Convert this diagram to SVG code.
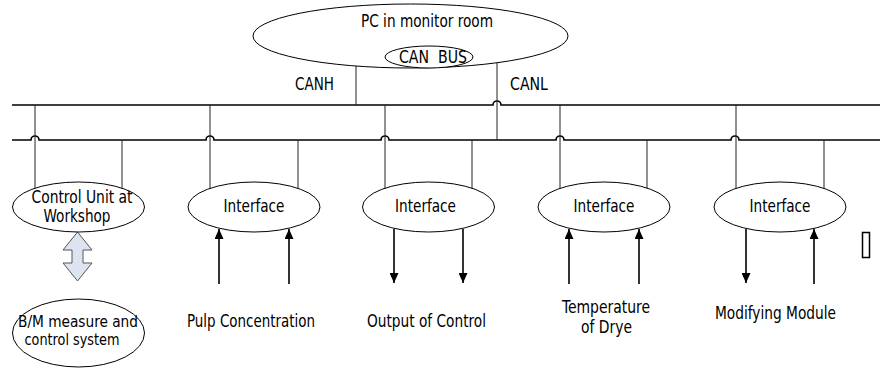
<svg xmlns="http://www.w3.org/2000/svg" width="880" height="368" viewBox="0 0 880 368">
<style>
text{font-family:"DejaVu Sans Condensed","DejaVu Sans",sans-serif;font-size:17px;fill:#000}
.sm{font-size:15.5px}
.el{fill:#fff;stroke:#000;stroke-width:1}
.bus{fill:none;stroke:#000;stroke-width:1.6}
.v{fill:none;stroke:#222;stroke-width:1}
.arr{fill:none;stroke:#000;stroke-width:1.6;marker-end:url(#ah)}
</style>
<defs>
<marker id="ah" markerUnits="userSpaceOnUse" markerWidth="10" markerHeight="9" refX="10" refY="4.5" orient="auto">
<path d="M0,0 L10,4.5 L0,9 z" fill="#000"/>
</marker>
</defs>
<g id="connectors">
<path class="bus" d="M12,105 H493 a4,4 0 0 1 8,0 H880"/>
<path class="bus" d="M12,140 H31 a4,4 0 0 1 8,0 H206 a4,4 0 0 1 8,0 H381 a4,4 0 0 1 8,0 H556 a4,4 0 0 1 8,0 H731 a4,4 0 0 1 8,0 H880"/>
<line class="v" x1="356" y1="66" x2="356" y2="105"/>
<line class="v" x1="497" y1="63" x2="497" y2="140"/>
<line class="v" x1="35" y1="105" x2="35" y2="189"/>
<line class="v" x1="122" y1="140" x2="122" y2="189"/>
<line class="v" x1="210" y1="105" x2="210" y2="189"/>
<line class="v" x1="298" y1="140" x2="298" y2="189"/>
<line class="v" x1="385" y1="105" x2="385" y2="189"/>
<line class="v" x1="472" y1="140" x2="472" y2="189"/>
<line class="v" x1="560" y1="105" x2="560" y2="189"/>
<line class="v" x1="647" y1="140" x2="647" y2="189"/>
<line class="v" x1="736" y1="105" x2="736" y2="189"/>
<line class="v" x1="824" y1="140" x2="824" y2="189"/>
<line class="arr" x1="219" y1="284" x2="219" y2="229"/>
<line class="arr" x1="289" y1="284" x2="289" y2="229"/>
<line class="arr" x1="394" y1="229" x2="394" y2="283"/>
<line class="arr" x1="463" y1="229" x2="463" y2="283"/>
<line class="arr" x1="569" y1="284" x2="569" y2="229"/>
<line class="arr" x1="639" y1="284" x2="639" y2="229"/>
<line class="arr" x1="746" y1="229" x2="746" y2="283"/>
<line class="arr" x1="814" y1="284" x2="814" y2="229"/>
<polygon points="77.5,232 92,250 83,250 83,263 92,263 77.5,281 63,263 72,263 72,250 63,250" fill="#dce4f2" stroke="#555" stroke-width="1"/>
</g>
<g id="pc">
<ellipse class="el" cx="410.5" cy="36" rx="157.5" ry="32"/>
<text x="361" y="27" textLength="132" lengthAdjust="spacingAndGlyphs">PC in monitor room</text>
<ellipse class="el" cx="429" cy="57" rx="44" ry="11"/>
<text x="399" y="63" textLength="68" lengthAdjust="spacingAndGlyphs" xml:space="preserve">CAN  BUS</text>
</g>
<g id="canh"><text x="295" y="90" textLength="39" lengthAdjust="spacingAndGlyphs">CANH</text></g>
<g id="canl"><text x="510" y="90" textLength="38" lengthAdjust="spacingAndGlyphs">CANL</text></g>
<g id="control-unit">
<ellipse class="el" cx="78.5" cy="207" rx="66" ry="25"/>
<text x="31.5" y="203" textLength="101" lengthAdjust="spacingAndGlyphs">Control Unit at</text>
<text x="43.5" y="222" textLength="67" lengthAdjust="spacingAndGlyphs">Workshop</text>
</g>
<g id="bm-system">
<ellipse class="el" cx="78.5" cy="333" rx="66" ry="34"/>
<text class="sm" x="18" y="327" textLength="120" lengthAdjust="spacingAndGlyphs">B/M measure and</text>
<text class="sm" x="24.5" y="345" textLength="95" lengthAdjust="spacingAndGlyphs">control system</text>
</g>
<g id="interface-1">
<ellipse class="el" cx="254" cy="207" rx="66" ry="25"/>
<text x="223.5" y="212" textLength="61" lengthAdjust="spacingAndGlyphs">Interface</text>
</g>
<g id="interface-2">
<ellipse class="el" cx="428.5" cy="207" rx="66" ry="25"/>
<text x="395" y="212" textLength="61" lengthAdjust="spacingAndGlyphs">Interface</text>
</g>
<g id="interface-3">
<ellipse class="el" cx="604" cy="207" rx="66" ry="25"/>
<text x="573.5" y="212" textLength="61" lengthAdjust="spacingAndGlyphs">Interface</text>
</g>
<g id="interface-4">
<ellipse class="el" cx="780" cy="207" rx="66" ry="25"/>
<text x="749.5" y="212" textLength="61" lengthAdjust="spacingAndGlyphs">Interface</text>
</g>
<g id="pulp"><text x="187" y="327" textLength="128" lengthAdjust="spacingAndGlyphs">Pulp Concentration</text></g>
<g id="output"><text x="367" y="327" textLength="119" lengthAdjust="spacingAndGlyphs">Output of Control</text></g>
<g id="temperature">
<text x="562" y="313" textLength="88" lengthAdjust="spacingAndGlyphs">Temperature</text>
<text x="581" y="333" textLength="51" lengthAdjust="spacingAndGlyphs">of Drye</text>
</g>
<g id="modifying"><text x="715" y="319" textLength="121" lengthAdjust="spacingAndGlyphs">Modifying Module</text></g>
<rect x="862.5" y="232.5" width="7" height="25" fill="none" stroke="#000" stroke-width="1.5"/>
</svg>
